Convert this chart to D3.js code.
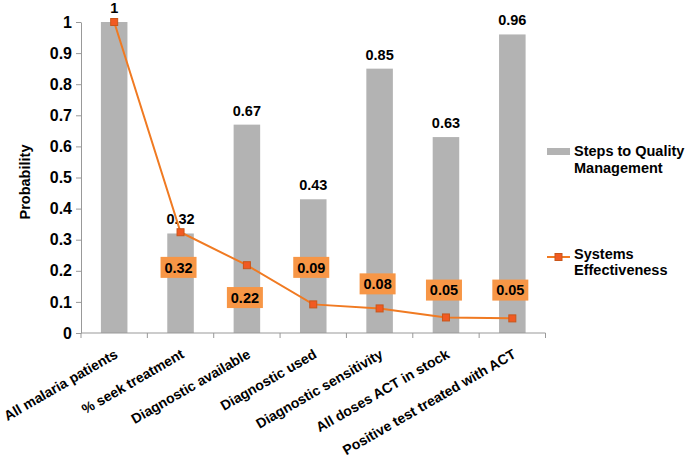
<!DOCTYPE html>
<html>
<head>
<meta charset="utf-8">
<script src="https://cdn.jsdelivr.net/npm/d3@7"></script>
<style>
  html, body { margin: 0; padding: 0; background: #fff; }
  svg { display: block; font-family: "Liberation Sans", Arial, sans-serif; font-weight: bold; }
</style>
</head>
<body>
<svg id="chart" width="687" height="468"></svg>
<script>
// ---- data ----
const categories = [
  "All malaria patients",
  "% seek treatment",
  "Diagnostic available",
  "Diagnostic used",
  "Diagnostic sensitivity",
  "All doses ACT in stock",
  "Positive test treated with ACT"
];
const stepsValues = [1, 0.32, 0.67, 0.43, 0.85, 0.63, 0.96];
const stepsLabels = ["1", "0.32", "0.67", "0.43", "0.85", "0.63", "0.96"];
const systemsValues = [1, 0.324, 0.218, 0.092, 0.079, 0.05, 0.047];
const systemsLabels = [null, "0.32", "0.22", "0.09", "0.08", "0.05", "0.05"];
// value-space anchor where each orange label box is centred
const systemsLabelAt = [null, 0.211, 0.114, 0.211, 0.158, 0.138, 0.138];
const yTicks = [0, 0.1, 0.2, 0.3, 0.4, 0.5, 0.6, 0.7, 0.8, 0.9, 1];
const seriesNames = [["Steps to Quality", "Management"], ["Systems", "Effectiveness"]];

// ---- layout ----
const svg = d3.select("#chart");
const plot = { left: 81, right: 545.5, top: 22, bottom: 333 };
const barGrey = "#B3B3B3";
const axisGrey = "#999999";
const lineOrange = "#F07A22";
const markerFill = "#F15A22";
const markerStroke = "#C9561A";
const boxOrange = "#F79646";

const x = d3.scaleBand().domain(categories).range([plot.left, plot.right]).paddingInner(0).paddingOuter(0);
const y = d3.scaleLinear().domain([0, 1]).range([plot.bottom, plot.top]);
const barW = x.bandwidth() * 0.4;
const cx = c => x(c) + x.bandwidth() / 2;

// bars
svg.append("g").selectAll("rect").data(categories).join("rect")
  .attr("x", (c) => cx(c) - barW / 2)
  .attr("y", (c, i) => y(stepsValues[i]))
  .attr("width", barW)
  .attr("height", (c, i) => y(0) - y(stepsValues[i]))
  .attr("fill", barGrey);

// y axis
const yAxis = svg.append("g")
  .attr("transform", `translate(${plot.left},0)`)
  .call(d3.axisLeft(y).tickValues(yTicks).tickFormat(d => d3.format("")(+d.toFixed(1))).tickSizeInner(5).tickSizeOuter(0).tickPadding(4));
yAxis.select(".domain").attr("stroke", axisGrey);
yAxis.selectAll(".tick line").attr("stroke", axisGrey);
yAxis.selectAll(".tick text")
  .attr("fill", "#000").attr("font-size", "16px").attr("font-weight", "bold")
  .attr("font-family", '"Liberation Sans", Arial, sans-serif');

// x axis line + boundary ticks
const xg = svg.append("g");
xg.append("line").attr("x1", plot.left).attr("x2", plot.right)
  .attr("y1", plot.bottom).attr("y2", plot.bottom).attr("stroke", axisGrey);
const bounds = categories.map(c => x(c)).concat([plot.right]);
xg.selectAll("line.tk").data(bounds).join("line").attr("class", "tk")
  .attr("x1", d => d).attr("x2", d => d)
  .attr("y1", plot.bottom).attr("y2", plot.bottom + 5).attr("stroke", axisGrey);

// category labels
svg.append("g").selectAll("text").data(categories).join("text")
  .attr("transform", c => `translate(${cx(c) + 4.5},${plot.bottom + 24}) rotate(-30)`)
  .attr("text-anchor", "end")
  .attr("font-size", "14px")
  .attr("fill", "#000")
  .text(c => c);

// y title
svg.append("text")
  .attr("transform", `translate(30,182) rotate(-90)`)
  .attr("text-anchor", "middle")
  .attr("font-size", "14.5px")
  .text("Probability");

// bar labels
svg.append("g").selectAll("text").data(categories).join("text")
  .attr("x", c => cx(c))
  .attr("y", (c, i) => y(stepsValues[i]) - 9)
  .attr("text-anchor", "middle")
  .attr("font-size", "14.5px")
  .text((c, i) => stepsLabels[i]);

// line
const line = d3.line().x((d, i) => cx(categories[i])).y(d => y(d));
svg.append("path").datum(systemsValues)
  .attr("d", line).attr("fill", "none")
  .attr("stroke", lineOrange).attr("stroke-width", 2);

// markers
const ms = 7;
svg.append("g").selectAll("rect").data(systemsValues).join("rect")
  .attr("x", (d, i) => cx(categories[i]) - ms / 2)
  .attr("y", d => y(d) - ms / 2)
  .attr("width", ms).attr("height", ms)
  .attr("fill", markerFill).attr("stroke", markerStroke).attr("stroke-width", 1);

// line labels in orange boxes
const lbl = svg.append("g").selectAll("g")
  .data(systemsLabels.map((t, i) => ({ t, i })).filter(d => d.t !== null))
  .join("g")
  .attr("transform", d => `translate(${cx(categories[d.i]) - 2},${y(systemsLabelAt[d.i])})`);
lbl.append("rect").attr("x", -18).attr("y", -10.5).attr("width", 36).attr("height", 21)
  .attr("fill", boxOrange);
lbl.append("text").attr("text-anchor", "middle").attr("y", 5.3)
  .attr("font-size", "14.5px").text(d => d.t);

// legend
const lg = svg.append("g");
lg.append("rect").attr("x", 547).attr("y", 148).attr("width", 23).attr("height", 7).attr("fill", barGrey);
lg.append("text").attr("x", 574).attr("y", 156).attr("font-size", "14.5px").text(seriesNames[0][0]);
lg.append("text").attr("x", 574).attr("y", 172.5).attr("font-size", "14.5px").text(seriesNames[0][1]);
lg.append("line").attr("x1", 547).attr("x2", 570).attr("y1", 257).attr("y2", 257)
  .attr("stroke", lineOrange).attr("stroke-width", 2);
lg.append("rect").attr("x", 558.5 - ms / 2).attr("y", 257 - ms / 2).attr("width", ms).attr("height", ms)
  .attr("fill", markerFill).attr("stroke", markerStroke);
lg.append("text").attr("x", 574).attr("y", 258.5).attr("font-size", "14.5px").text(seriesNames[1][0]);
lg.append("text").attr("x", 574).attr("y", 275).attr("font-size", "14.5px").text(seriesNames[1][1]);
</script>
</body>
</html>
